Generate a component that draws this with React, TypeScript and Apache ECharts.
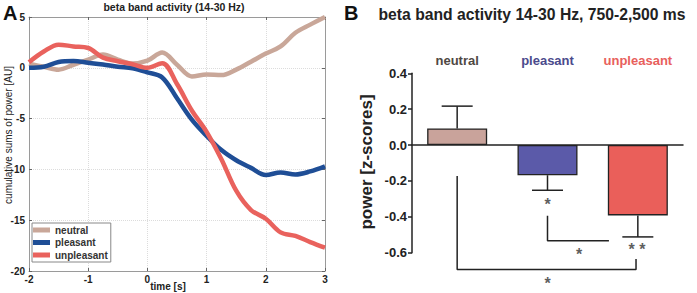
import React, { useEffect, useRef } from "react";
import * as echarts from "echarts";

// ---- Panel A: cumulative sums of beta power ----
const timeSec = [-2, -1.75, -1.5, -1.25, -1, -0.75, -0.5, -0.25, 0, 0.25, 0.5, 0.75, 1, 1.25, 1.5, 1.75, 2, 2.25, 2.5, 2.75, 3];
const neutralSums = [0.4, 0.1, -0.18, 0.3, 0.8, 1.3, 0.8, 0.42, 0.7, 1.5, 0.3, -0.85, -0.65, -0.72, -0.18, 0.6, 1.4, 2.1, 3.45, 4.25, 5.0];
const pleasantSums = [0.0, 0.1, 0.57, 0.67, 0.5, 0.32, 0.1, -0.05, -0.45, -0.95, -3.0, -5.1, -6.7, -8.1, -9.1, -9.85, -10.55, -10.3, -10.5, -10.2, -9.7];
const unpleasantSums = [0.55, 1.6, 2.28, 2.1, 1.95, 1.0, 0.65, 0.35, 0.0, 0.45, -1.6, -4.2, -6.3, -9.0, -12.1, -14.0, -14.85, -16.2, -16.55, -17.15, -17.7];
const seriesNamesA = ["neutral", "pleasant", "unpleasant"];

// ---- Panel B: mean power 750-2,500 ms ----
const categoriesB = ["neutral", "pleasant", "unpleasant"];
const meanPower = [0.093, -0.168, -0.392];
const errorEnd = [0.217, -0.252, -0.512];
// significance brackets (x in category units 0..3, y in z-scores)
const bracketPleasantUnpleasant = [[1.5, -0.394], [1.5, -0.533], [2.18, -0.533]];
const bracketNeutralUnpleasant = [[0.5, -0.172], [0.5, -0.694], [2.48, -0.694], [2.48, -0.635]];
const starMarks = [
  [1.5, -0.33, "*"],
  [1.85, -0.61, "*"],
  [2.49, -0.58, "* *"],
  [1.5, -0.772, "*"],
];

const lineColors = ["#c9a799", "#1f4e96", "#e9625d"];
const barColors = ["#c9a39b", "#5b5aa9", "#ea5f5a"];
const labelColors = ["#4f4843", "#4b4a8c", "#e8605c"];

const FONT = "'Liberation Sans', Arial, sans-serif";

export default function App() {
  const ref = useRef<HTMLDivElement>(null);
  useEffect(() => {
    if (!ref.current) return;
    const chart = echarts.init(ref.current, undefined, { renderer: "svg" });
    const sumsList = [neutralSums, pleasantSums, unpleasantSums];
    const lineSeries = seriesNamesA.map((name, i) => ({
      name,
      type: "line",
      xAxisIndex: 0,
      yAxisIndex: 0,
      smooth: 0.35,
      showSymbol: false,
      symbol: "none",
      data: timeSec.map((t, k) => [t, sumsList[i][k]]),
      lineStyle: { color: lineColors[i], width: 4.5 },
      itemStyle: { color: lineColors[i] },
      z: 3 + i,
    }));

    const gridLineStyle = { color: "#dcdcdc", type: "dotted", width: 1 };
    const frame = { color: "#9a9a9a", width: 1 };
    const tickIn = { show: true, inside: true, length: 3, lineStyle: { color: "#666" } };

    const option: any = {
      animation: false,
      textStyle: { fontFamily: FONT },
      grid: [
        { left: 29, top: 17, width: 296, height: 254 },
        { left: 412, top: 73.3, width: 271, height: 179.4 },
      ],
      legend: {
        data: seriesNamesA,
        orient: "vertical",
        left: 32,
        top: 223,
        icon: "rect",
        itemWidth: 17,
        itemHeight: 5,
        itemGap: 0.5,
        padding: [1, 3, 1, 1],
        backgroundColor: "#fff",
        borderColor: "#888",
        borderWidth: 1,
        textStyle: { fontSize: 10, fontWeight: "bold", color: "#333", lineHeight: 12 },
        selectedMode: false,
      },
      xAxis: [
        {
          gridIndex: 0, type: "value", position: "bottom", min: -2, max: 3, interval: 1,
          axisLine: { show: true, onZero: false, lineStyle: frame },
          axisTick: tickIn,
          axisLabel: { fontSize: 10, fontWeight: "bold", color: "#222", margin: 3 },
          splitLine: { show: true, lineStyle: gridLineStyle },
        },
        {
          gridIndex: 0, type: "value", position: "top", min: -2, max: 3, interval: 1,
          axisLine: { show: true, onZero: false, lineStyle: frame },
          axisTick: tickIn,
          axisLabel: { show: false },
          splitLine: { show: false },
        },
        {
          gridIndex: 1, type: "category", position: "bottom", data: categoriesB,
          axisLine: { show: true, onZero: true, lineStyle: { color: "#222", width: 1.5 } },
          axisTick: { show: false },
          axisLabel: { show: false },
          splitLine: { show: false },
        },
        {
          gridIndex: 1, type: "category", position: "top", data: categoriesB,
          axisLine: { show: false },
          axisTick: { show: false },
          axisLabel: {
            interval: 0,
            hideOverlap: false,
            margin: 6,
            formatter: (v: string, i: number) => `{c${i}|${v}}`,
            rich: {
              c0: { color: labelColors[0], fontSize: 13, fontWeight: "bold" },
              c1: { color: labelColors[1], fontSize: 13, fontWeight: "bold" },
              c2: { color: labelColors[2], fontSize: 13, fontWeight: "bold" },
            },
          },
          splitLine: { show: false },
        },
        { gridIndex: 1, type: "value", min: 0, max: 3, show: false },
      ],
      yAxis: [
        {
          gridIndex: 0, type: "value", position: "left", min: -20, max: 5, interval: 5,
          axisLine: { show: true, onZero: false, lineStyle: frame },
          axisTick: tickIn,
          axisLabel: { fontSize: 10, fontWeight: "bold", color: "#222", margin: 4 },
          splitLine: { show: true, lineStyle: gridLineStyle },
        },
        {
          gridIndex: 0, type: "value", position: "right", min: -20, max: 5, interval: 5,
          axisLine: { show: true, onZero: false, lineStyle: frame },
          axisTick: tickIn,
          axisLabel: { show: false },
          splitLine: { show: false },
        },
        {
          gridIndex: 1, type: "value", position: "left", min: -0.6, max: 0.4, interval: 0.2,
          axisLine: { show: true, onZero: false, lineStyle: { color: "#222", width: 1.5 } },
          axisTick: { show: true, inside: false, length: 4, lineStyle: { color: "#222", width: 1.5 } },
          axisLabel: {
            fontSize: 13, fontWeight: "bold", color: "#222", margin: 5,
            formatter: (v: number) => (Math.abs(v) < 1e-9 ? "0.0" : v.toFixed(1)),
          },
          splitLine: { show: false },
        },
      ],
      graphic: [
        { type: "text", left: 3, top: 3, style: { text: "A", font: `bold 20px ${FONT}`, fill: "#111" } },
        { type: "text", left: 344, top: 3, style: { text: "B", font: `bold 20px ${FONT}`, fill: "#111" } },
        {
          type: "text", x: 174, y: 7,
          style: { text: "beta band activity (14-30 Hz)", font: `bold 10.5px ${FONT}`, fill: "#222", align: "center", verticalAlign: "middle" },
        },
        {
          type: "text", x: 532, y: 14,
          style: { text: "beta band activity 14-30 Hz, 750-2,500 ms", font: `bold 15.7px ${FONT}`, fill: "#222", align: "center", verticalAlign: "middle" },
        },
        {
          type: "text", x: 8, y: 135, rotation: Math.PI / 2,
          style: { text: "cumulative sums of power [AU]", font: `10px ${FONT}`, fill: "#222", align: "center", verticalAlign: "middle" },
        },
        {
          type: "text", x: 168, y: 286,
          style: { text: "time [s]", font: `bold 10px ${FONT}`, fill: "#222", align: "center", verticalAlign: "middle" },
        },
        {
          type: "text", x: 366, y: 162, rotation: Math.PI / 2,
          style: { text: "power [z-scores]", font: `bold 17px ${FONT}`, fill: "#222", align: "center", verticalAlign: "middle" },
        },
      ],
      series: [
        ...lineSeries,
        {
          name: "power",
          type: "bar",
          xAxisIndex: 2,
          yAxisIndex: 2,
          barWidth: 60,
          data: meanPower.map((v, i) => ({ value: v, itemStyle: { color: barColors[i] } })),
          itemStyle: { borderColor: "#222", borderWidth: 1.3 },
          z: 2,
        },
        {
          name: "sem",
          type: "custom",
          xAxisIndex: 2,
          yAxisIndex: 2,
          data: meanPower.map((v, i) => [i, v, errorEnd[i]]),
          encode: { x: 0, y: [1, 2] },
          renderItem: (params: any, api: any) => {
            const idx = api.value(0);
            const p0 = api.coord([idx, api.value(1)]);
            const p1 = api.coord([idx, api.value(2)]);
            const half = 15.5;
            const st = { stroke: "#222", lineWidth: 1.5 };
            return {
              type: "group",
              children: [
                { type: "line", shape: { x1: p0[0], y1: p0[1], x2: p1[0], y2: p1[1] }, style: st },
                { type: "line", shape: { x1: p1[0] - half, y1: p1[1], x2: p1[0] + half, y2: p1[1] }, style: st },
              ],
            };
          },
          z: 3,
        },
        {
          type: "line",
          xAxisIndex: 4,
          yAxisIndex: 2,
          data: bracketPleasantUnpleasant,
          symbol: "none",
          clip: false,
          lineStyle: { color: "#222", width: 1.5 },
          silent: true,
        },
        {
          type: "line",
          xAxisIndex: 4,
          yAxisIndex: 2,
          data: bracketNeutralUnpleasant,
          symbol: "none",
          clip: false,
          lineStyle: { color: "#222", width: 1.5 },
          silent: true,
        },
        {
          type: "scatter",
          xAxisIndex: 4,
          yAxisIndex: 2,
          data: starMarks,
          symbolSize: 1,
          clip: false,
          itemStyle: { color: "rgba(0,0,0,0)" },
          label: {
            show: true,
            position: "inside",
            formatter: (p: any) => p.value[2],
            fontSize: 16,
            lineHeight: 8,
            fontWeight: "bold",
            color: "#333",
          },
          silent: true,
        },
      ],
    };
    chart.setOption(option);
    return () => chart.dispose();
  }, []);
  return (
    <div
      ref={ref}
      style={{ position: "absolute", left: 0, top: 0, width: 697, height: 293, background: "#fff" }}
    />
  );
}
